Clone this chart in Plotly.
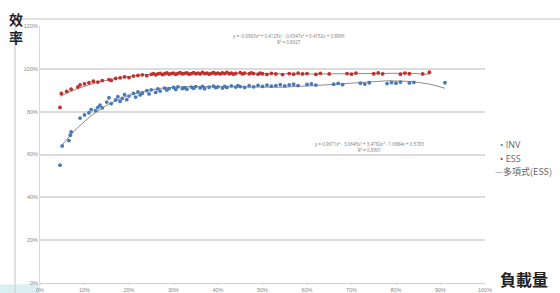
import numpy as np
import plotly.graph_objects as go

# ---- data: load (%) and efficiency (%) ----
inv_x = [4.5, 5, 6.5, 6.8, 7, 9, 10, 11, 11.5, 12.5, 13, 13.5, 14, 15, 15.5, 16, 17, 17.5, 18,
         18.5, 19, 19.5, 20, 21, 21.5, 22, 22.5, 23, 24, 24.5, 25, 26, 26.5, 27, 28, 28.5, 29,
         30, 30.5, 31, 32, 32.5, 33, 34, 34.5, 35, 36, 36.5, 37, 38, 39, 39.5, 40, 41, 41.5,
         42, 43, 44, 44.5, 45, 46, 47, 48, 49, 50, 51, 52, 53, 54, 55, 56, 57, 58, 60, 61, 62,
         66, 67, 68, 72, 73, 74, 78, 79, 80, 81, 83, 84, 91]
inv_y = [55, 64, 66.5, 69, 70.5, 77, 78.5, 79.5, 81, 80.5, 82, 83, 81.8, 84.5, 86.5, 83.8, 85.5,
         87, 84.8, 86.2, 88, 85.6, 87.3, 88.5, 86.8, 89.2, 87.8, 88.6, 89.8, 88.3, 90.2, 89, 90.6,
         89.6, 91, 90.1, 90.8, 91.3, 90.4, 91.6, 90.8, 91.2, 90.5, 91.5, 90.9, 91.7, 91.1, 91.8,
         90.7, 91.4, 91.9, 91.2, 91.6, 91, 91.8, 91.3, 92, 91.5, 92.2, 91.7, 91.3, 92.1, 91.6,
         92.3, 91.8, 92.4, 91.9, 92.2, 92.6, 92, 92.5, 92.8, 92.2, 92.7, 93, 92.4, 92.8, 93.2,
         92.6, 93.3, 92.9, 93.5, 93.1, 93.6, 93.3, 93.8, 93.4, 93.7, 93.5]

ess_x = [4.5, 4.8, 6, 7, 8.5, 9, 10, 11, 12, 13, 14, 15.5, 16, 17, 18, 19, 20, 21, 22, 23, 24,
         25, 25.5, 26, 26.5, 27, 27.5, 28, 28.5, 29, 29.5, 30, 30.5, 31, 31.5, 32, 32.5, 33,
         33.5, 34, 34.5, 35, 35.5, 36, 36.5, 37, 37.5, 38, 38.5, 39, 39.5, 40, 40.5, 41, 41.5,
         42, 42.5, 43, 43.5, 44, 45, 45.5, 46, 47, 47.5, 48, 49, 49.5, 50, 51, 52, 53, 54.5, 56,
         57, 58, 59, 60, 62, 63, 65, 69, 70, 71, 75, 76, 77, 81, 82, 83, 86, 87.5]
ess_y = [82, 88.5, 89.5, 90.5, 91.5, 92.5, 93, 93.5, 94.2, 93.8, 94.5, 95, 94.6, 95.5, 95.8, 96.2,
         95.9, 96.6, 96.9, 97.2, 96.8, 97.4, 97.8, 97.2, 97.6, 97.9, 97.3, 97.7, 98.1, 97.5, 97.8,
         98, 97.4, 97.9, 98.2, 97.6, 97.9, 98.1, 97.5, 97.8, 98.2, 97.7, 98, 97.6, 98.3, 97.8, 98,
         97.5, 97.9, 98.2, 97.7, 98, 97.6, 98.1, 97.8, 98.3, 97.7, 98, 97.5, 97.9, 98.2, 97.6, 98,
         97.7, 98.1, 97.8, 97.5, 98, 97.7, 97.4, 97.9, 97.6, 97.3, 97.8, 97.5, 98, 97.6, 97.8,
         97.4, 97.9, 97.6, 97.8, 97.5, 98, 97.7, 98.1, 97.6, 97.5, 98, 97.7, 97.6, 98.4]

x_ticks = [0, 10, 20, 30, 40, 50, 60, 70, 80, 90, 100]
x_labels = ["0%", "10%", "20%", "30%", "40%", "50%", "60%", "70%", "80%", "90%", "100%"]
y_ticks = [0, 20, 40, 60, 80, 100, 120]
y_labels = ["0%", "20%", "40%", "60%", "80%", "100%", "120%"]

eq_ess = "y = -0.0963x⁴ + 0.4125x³ - 0.6347x² + 0.4152x + 0.8996"
r2_ess = "R² = 0.8027"
eq_inv = "y = 0.9671x⁴ - 3.0645x³ + 3.4782x² - 1.6884x + 0.5783"
r2_inv = "R² = 0.8901"

RED = "#c0302e"
BLUE = "#4a7ab8"
TREND = "#8c8c8c"

fig = go.Figure()

# 4th-order polynomial trend lines fitted to the data
for xs, ys in ((inv_x, inv_y), (ess_x, ess_y)):
    c = np.polyfit(xs, ys, 4)
    tx = np.linspace(min(xs), max(xs), 120)
    fig.add_trace(go.Scatter(x=tx, y=np.polyval(c, tx), mode="lines",
                             line=dict(color=TREND, width=1), showlegend=False,
                             hoverinfo="skip"))

fig.add_trace(go.Scatter(x=inv_x, y=inv_y, mode="markers", name="INV",
                         marker=dict(color=BLUE, size=3.8), showlegend=False))
fig.add_trace(go.Scatter(x=ess_x, y=ess_y, mode="markers", name="ESS",
                         marker=dict(color=RED, size=3.8), showlegend=False))

tick_font = dict(size=5.5, color="#8a8a8a", family="Liberation Sans")
fig.update_xaxes(range=[0, 100], tickvals=x_ticks, ticktext=x_labels, showgrid=False,
                 zeroline=False, showline=True, linecolor="#d0d0d0", linewidth=1,
                 ticks="outside", ticklen=1, tickcolor="#d0d0d0", tickfont=tick_font,
                 automargin=False)
fig.update_yaxes(range=[0, 120], tickvals=y_ticks, ticktext=y_labels, showgrid=True,
                 gridcolor="#dcdcdc", gridwidth=1.5, zeroline=False, showline=True,
                 linecolor="#d8d8d8", linewidth=1, tickfont=tick_font, ticks="",
                 automargin=False)

CJK = "Noto Sans CJK TC"
annos = [
    dict(x=-0.053, y=0.993, xref="paper", yref="paper", text="<b>效<br>率</b>", showarrow=False,
         xanchor="center", yanchor="middle", font=dict(size=14, color="#222222", family=CJK)),
    dict(x=1.088, y=0.014, xref="paper", yref="paper", text="<b>負載量</b>", showarrow=False,
         xanchor="center", yanchor="middle", font=dict(size=16, color="#222222", family=CJK)),
    dict(x=56, y=114, xref="x", yref="y", text=eq_ess + "<br>" + r2_ess, showarrow=False,
         xanchor="center", yanchor="middle", font=dict(size=4.5, color="#777777")),
    dict(x=74, y=63.5, xref="x", yref="y", text=eq_inv + "<br>" + r2_inv, showarrow=False,
         xanchor="center", yanchor="middle", font=dict(size=4.5, color="#777777")),
    dict(x=1.03, y=0.539, xref="paper", yref="paper",
         text="<span style='color:%s'>•</span> INV" % BLUE, showarrow=False,
         xanchor="left", yanchor="middle", font=dict(size=9, color="#666666")),
    dict(x=1.03, y=0.485, xref="paper", yref="paper",
         text="<span style='color:%s'>•</span> ESS" % RED, showarrow=False,
         xanchor="left", yanchor="middle", font=dict(size=9, color="#666666")),
    dict(x=1.018, y=0.434, xref="paper", yref="paper",
         text="<span style='color:%s'>—</span>多項式(ESS)" % TREND, showarrow=False,
         xanchor="left", yanchor="middle", font=dict(size=9, color="#666666", family=CJK)),
]

shapes = [
    dict(type="line", xref="paper", yref="paper", x0=-0.056, x1=1.2, y0=1.027, y1=1.027,
         line=dict(color="#d6d6d6", width=1.5)),
    dict(type="line", xref="paper", yref="paper", x0=-0.056, x1=-0.056, y0=-0.04, y1=1.027,
         line=dict(color="#d6d6d6", width=1.5)),
    dict(type="rect", xref="paper", yref="paper", x0=-0.09, x1=-0.0, y0=-0.04, y1=-0.005,
         fillcolor="#d9eff2", line=dict(width=0), layer="below"),
]

fig.update_layout(width=560, height=293, margin=dict(l=40, r=75, t=26, b=10),
                  paper_bgcolor="white", plot_bgcolor="white",
                  annotations=annos, shapes=shapes, showlegend=False)

fig.write_html("out.html", config={"displayModeBar": False},
               post_script="document.body.style.margin='0';document.body.style.overflow='hidden';")
